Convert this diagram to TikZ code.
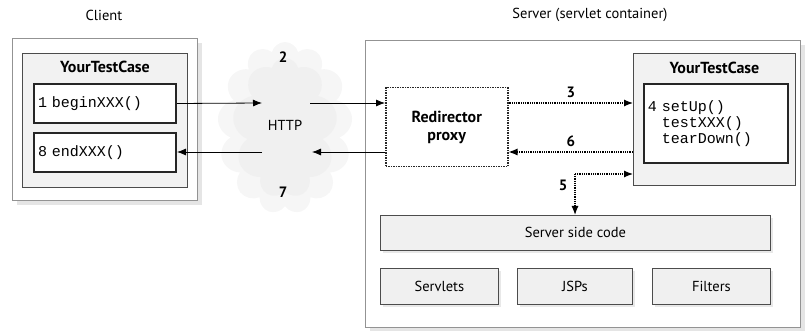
\documentclass[tikz,border=0pt]{standalone}
\usepackage{fontspec}
\setmainfont{PT Sans}
\setmonofont{Liberation Mono}
\usetikzlibrary{arrows.meta,shapes.symbols,shadows,positioning}

\begin{document}
\begin{tikzpicture}[x=1pt,y=-1pt,font=\fontsize{14.5}{16}\selectfont,
	outer/.style={draw=gray!85,line width=1.2pt,fill=white,anchor=north west,
		drop shadow={shadow xshift=4pt,shadow yshift=-4pt,fill=gray!40}},
	tcbox/.style={draw=black!70,line width=1pt,fill=gray!10,anchor=north west},
	method/.style={draw=black!85,line width=2pt,fill=white,anchor=north west,
		font=\ttfamily\fontsize{15}{16}\selectfont,align=left,inner sep=4pt},
	layer/.style={draw=black!70,line width=0.8pt,fill=gray!12,anchor=north west,
		drop shadow={shadow xshift=3pt,shadow yshift=-3pt,fill=gray!35}},
	title/.style={font=\bfseries\fontsize{16}{18}\selectfont},
	num/.style={font=\bfseries\fontsize{15}{17}\selectfont},
	link/.style={-{Latex[length=9pt,width=7pt]},line width=0.8pt},
	dlink/.style={link,densely dotted,line width=1.2pt}]

	\useasboundingbox (0,0) rectangle (808,331);

	% client side
	\node (clientlbl) at (104,15) {Client};
	\node[outer,minimum width=185pt,minimum height=162pt] (client) at (12,38) {};
	\node[tcbox,minimum width=165pt,minimum height=134pt] (clienttc) at (22,53) {};
	\node[title] (clienttitle) at (clienttc.north |- 0,67) {YourTestCase};
	\node[method,text width=134pt,minimum height=39pt] (begin) at (33,83) {1 beginXXX()};
	\node[method,text width=134pt,minimum height=39pt] (end) at (33,132) {8 endXXX()};

	% the network
	\node[cloud,cloud puffs=13,fill=gray!7,minimum width=135pt,minimum height=172pt] (cloud) at (285,128) {};
	\node[cloud,cloud puffs=9,fill=gray!12,minimum width=105pt,minimum height=140pt] (core) at (285,128) {};
	\node (http) at (285,125) {HTTP};
	\node[num] (two) at (283,57) {2};
	\node[num] (seven) at (283,192) {7};
	\coordinate (c1in) at (262,103);
	\coordinate (c1out) at (310,103);
	\coordinate (c7in) at (312,152);
	\coordinate (c7out) at (262,152);

	% server side
	\node (serverlbl) at (590,15) {Server (servlet container)};
	\node[outer,minimum width=435pt,minimum height=287pt] (server) at (365,40) {};
	\node[draw=black!85,densely dotted,line width=1.5pt,fill=white,anchor=north west,
		minimum width=122pt,minimum height=79pt,align=center,
		font=\bfseries\fontsize{16}{18}\selectfont] (proxy) at (385,87) {Redirector\\proxy};
	\node[tcbox,minimum width=162pt,minimum height=132pt] (servertc) at (633,53) {};
	\node[title] (servertitle) at (servertc.north |- 0,68) {YourTestCase};
	\node[method,text width=136pt,minimum height=79pt,line width=1.8pt] (methods) at (643,83)
		{4 setUp()\\\phantom{4 }testXXX()\\\phantom{4 }tearDown()};
	\node[layer,minimum width=390pt,minimum height=35pt] (ssc) at (380,215) {Server side code};
	\node[layer,minimum width=118pt,minimum height=36pt] (servlets) at (380,268) {Servlets};
	\node[layer,minimum width=115pt,minimum height=36pt] (jsps) at (517,268) {JSPs};
	\node[layer,minimum width=118pt,minimum height=36pt] (filters) at (652,268) {Filters};

	% connectors
	\draw[link] (begin.east) -- (c1in);
	\draw[link] (c1out) -- (proxy.west |- c1out);
	\draw[link] (proxy.west |- c7in) -- (c7in);
	\draw[link] (c7out) -- (end.east |- c7out);
	\draw[dlink] (proxy.east |- c1out) -- (servertc.west |- c1out) node[num,midway,above=1pt] {3};
	\draw[dlink] (servertc.west |- c7in) -- (proxy.east |- c7in) node[num,midway,above=1pt] {6};
	\coordinate (c5) at (575,174);
	\draw[dlink] (c5) -- (servertc.west |- c5);
	\draw[dlink] (c5) -- (c5 |- ssc.north);
	\node[num] (five) at (563,185) {5};

\end{tikzpicture}
\end{document}
